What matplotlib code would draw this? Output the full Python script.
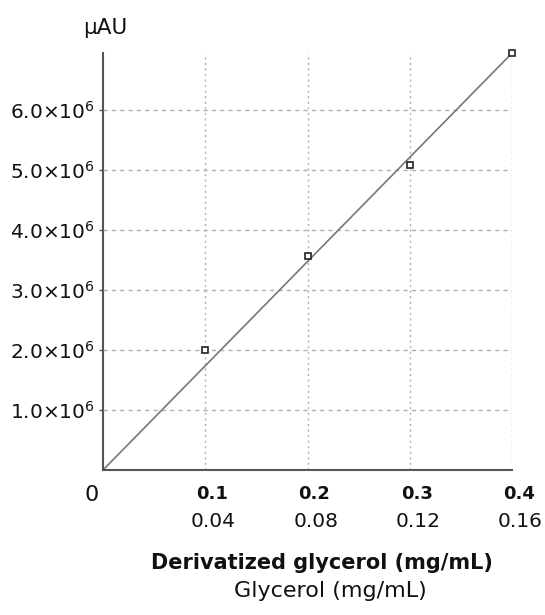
import numpy as np
import matplotlib
matplotlib.use("Agg")
import matplotlib.pyplot as plt
from matplotlib.ticker import FuncFormatter

plt.rcParams["font.family"] = ["DejaVu Sans"]
plt.rcParams["mathtext.fontset"] = "dejavusans"

# data
deriv_conc = [0.1, 0.2, 0.3, 0.4]                 # derivatized glycerol (mg/mL)
glycerol_conc = [0.04, 0.08, 0.12, 0.16]          # glycerol (mg/mL)
signal = [2.0e6, 3.57e6, 5.08e6, 6.95e6]          # µAU
slope = 1.737e7                                   # fitted line through origin
y_ticks = [1e6, 2e6, 3e6, 4e6, 5e6, 6e6]

fig = plt.figure(figsize=(5.45, 6.15), dpi=100)
ax = fig.add_axes([103 / 545, 1 - 470 / 615, (512 - 103) / 545, (470 - 53) / 615])

ax.set_xlim(0, 0.4)
ax.set_ylim(0, 6.95e6)

# grid
for xv in deriv_conc:
    ax.axvline(xv, color="#b0b0b0", lw=1.0, ls=(0, (1.5, 2.5)), zorder=0)
for yv in y_ticks:
    ax.axhline(yv, color="#b0b0b0", lw=1.0, ls=(0, (3, 3)), zorder=0)

# fit line and points
fit_x = np.array([0, deriv_conc[-1]])
ax.plot(fit_x, slope * fit_x, color="#777777", lw=1.2, zorder=2, clip_on=False)
ax.plot(deriv_conc, signal, ls="none", marker="s", ms=4.5, mfc="white",
        mec="#222222", mew=1.2, zorder=3, clip_on=False)

for s in ["top", "right"]:
    ax.spines[s].set_visible(False)
for s in ["left", "bottom"]:
    ax.spines[s].set_color("#555555")
    ax.spines[s].set_linewidth(1.5)

ax.set_yticks(y_ticks)
ax.yaxis.set_major_formatter(FuncFormatter(
    lambda v, p: r"%.1f$\times$10$^{6}$" % (v / 1e6)))
ax.tick_params(axis="y", length=3, width=1, color="#555555", pad=3,
               labelsize=14.5, labelcolor="#111111")

ax.set_xticks(deriv_conc)
ax.set_xticklabels([])
ax.tick_params(axis="x", length=0)

# two rows of x labels: derivatized (bold) and glycerol
trans = ax.get_xaxis_transform()
for xv, d, g in zip(deriv_conc, deriv_conc, glycerol_conc):
    ax.annotate(f"{d}", xy=(xv, 0), xycoords=trans, xytext=(5, -17),
                textcoords="offset points", ha="center", va="center",
                fontsize=13, fontweight="bold", color="#111111")
    ax.annotate(f"{g:.2f}", xy=(xv, 0), xycoords=trans, xytext=(6, -37),
                textcoords="offset points", ha="center", va="center",
                fontsize=14.5, color="#111111", annotation_clip=False)

# origin label
ax.annotate("0", xy=(0, 0), xycoords="data", xytext=(-8, -18),
            textcoords="offset points", ha="center", va="center",
            fontsize=16, color="#111111", annotation_clip=False)

fig.text(105 / 545, 1 - 28 / 615, "µAU", ha="center", va="center",
         fontsize=15.5, color="#111111")
fig.text(322 / 545, 1 - 563 / 615, "Derivatized glycerol (mg/mL)",
         ha="center", va="center", fontsize=15, fontweight="bold", color="#111111")
fig.text(330 / 545, 1 - 591 / 615, "Glycerol (mg/mL)",
         ha="center", va="center", fontsize=16, color="#111111")

fig.savefig("out.png", dpi=100)
